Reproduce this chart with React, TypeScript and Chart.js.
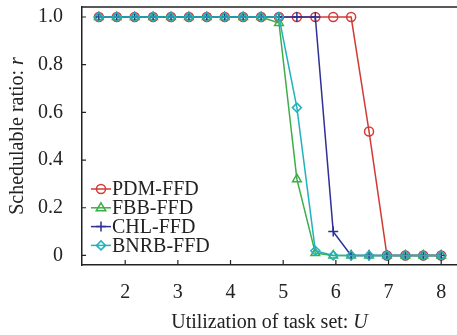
import React, { useEffect, useRef } from "react";
import { Chart, registerables } from "chart.js";

Chart.register(...registerables);

const X_VALUES = [1.5, 1.84, 2.18, 2.53, 2.87, 3.21, 3.55, 3.89, 4.24, 4.58, 4.92, 5.26, 5.61, 5.95, 6.29, 6.63, 6.97, 7.32, 7.66, 8.0];
const PDM_FFD = [1, 1, 1, 1, 1, 1, 1, 1, 1, 1, 1, 1, 1, 1, 1, 0.52, 0, 0, 0, 0];
const FBB_FFD = [1, 1, 1, 1, 1, 1, 1, 1, 1, 1, 0.975, 0.32, 0.01, 0, 0, 0, 0, 0, 0, 0];
const CHL_FFD = [1, 1, 1, 1, 1, 1, 1, 1, 1, 1, 1, 1, 1, 0.1, 0, 0, 0, 0, 0, 0];
const BNRB_FFD = [1, 1, 1, 1, 1, 1, 1, 1, 1, 1, 1, 0.62, 0.02, 0, 0, 0, 0, 0, 0, 0];
const X_TICKS = [2, 3, 4, 5, 6, 7, 8];
const Y_TICKS = [0, 0.2, 0.4, 0.6, 0.8, 1.0];
const Y_TICK_LABELS = ["0", "0.2", "0.4", "0.6", "0.8", "1.0"];

const SERIES = [
  { label: "PDM-FFD", data: PDM_FFD, color: "#d23a36", style: "circle", radius: 4.5 },
  { label: "FBB-FFD", data: FBB_FFD, color: "#3cae48", style: "triangle", radius: 5 },
  { label: "CHL-FFD", data: CHL_FFD, color: "#2e3192", style: "cross", radius: 5 },
  { label: "BNRB-FFD", data: BNRB_FFD, color: "#22b2bb", style: "rectRot", radius: 4.5 },
];

const FONT = "'Liberation Serif', 'Times New Roman', serif";

function drawMarker(ctx: CanvasRenderingContext2D, style: string, x: number, y: number, r: number) {
  ctx.beginPath();
  if (style === "circle") {
    ctx.arc(x, y, r, 0, Math.PI * 2);
  } else if (style === "triangle") {
    ctx.moveTo(x, y - r);
    ctx.lineTo(x + r * 0.95, y + r * 0.6);
    ctx.lineTo(x - r * 0.95, y + r * 0.6);
    ctx.closePath();
  } else if (style === "cross") {
    ctx.moveTo(x - r, y);
    ctx.lineTo(x + r, y);
    ctx.moveTo(x, y - r);
    ctx.lineTo(x, y + r);
  } else {
    ctx.moveTo(x, y - r);
    ctx.lineTo(x + r, y);
    ctx.lineTo(x, y + r);
    ctx.lineTo(x - r, y);
    ctx.closePath();
  }
  ctx.stroke();
}

const decorPlugin = {
  id: "decor",
  afterDraw(chart: any) {
    const ctx: CanvasRenderingContext2D = chart.ctx;
    const a = chart.chartArea;
    const xs = chart.scales.x;
    const ys = chart.scales.y;
    ctx.save();
    ctx.strokeStyle = "#222";
    ctx.lineWidth = 1.5;
    ctx.beginPath();
    ctx.moveTo(a.left, a.top);
    ctx.lineTo(a.right, a.top);
    ctx.stroke();
    ctx.lineWidth = 1.2;
    ctx.beginPath();
    X_TICKS.forEach((v) => {
      const px = xs.getPixelForValue(v);
      ctx.moveTo(px, a.bottom);
      ctx.lineTo(px, a.bottom - 5);
    });
    Y_TICKS.forEach((v) => {
      const py = ys.getPixelForValue(v);
      ctx.moveTo(a.left, py);
      ctx.lineTo(a.left + 4, py);
    });
    ctx.stroke();

    ctx.font = `20px ${FONT}`;
    ctx.textBaseline = "middle";
    ctx.textAlign = "left";
    SERIES.forEach((s, i) => {
      const y = 189 + i * 18.8;
      ctx.strokeStyle = s.color;
      ctx.lineWidth = 1.5;
      ctx.beginPath();
      ctx.moveTo(91, y);
      ctx.lineTo(111, y);
      ctx.stroke();
      drawMarker(ctx, s.style, 101, y, s.radius);
      ctx.fillStyle = "#222";
      ctx.fillText(s.label, 112, y + 1);
    });

    ctx.fillStyle = "#222";
    ctx.textBaseline = "middle";
    const xt1 = "Utilization of task set: ";
    const xt2 = "U";
    ctx.font = `20px ${FONT}`;
    const w1 = ctx.measureText(xt1).width;
    ctx.font = `italic 20px ${FONT}`;
    const w2 = ctx.measureText(xt2).width;
    const cx = (a.left + a.right) / 2;
    let sx = cx - (w1 + w2) / 2;
    ctx.font = `20px ${FONT}`;
    ctx.fillText(xt1, sx, 323);
    ctx.font = `italic 20px ${FONT}`;
    ctx.fillText(xt2, sx + w1, 323);

    const yt1 = "Schedulable ratio: ";
    const yt2 = "r";
    ctx.font = `20px ${FONT}`;
    const v1 = ctx.measureText(yt1).width;
    ctx.font = `italic 20px ${FONT}`;
    const v2 = ctx.measureText(yt2).width;
    ctx.translate(18, (a.top + a.bottom) / 2);
    ctx.rotate(-Math.PI / 2);
    sx = -(v1 + v2) / 2;
    ctx.font = `20px ${FONT}`;
    ctx.fillText(yt1, sx, 0);
    ctx.font = `italic 20px ${FONT}`;
    ctx.fillText(yt2, sx + v1, 0);
    ctx.restore();
  },
};

export default function App() {
  const ref = useRef<HTMLCanvasElement | null>(null);
  useEffect(() => {
    if (!ref.current) return;
    const chart = new Chart(ref.current, {
      type: "line",
      data: {
        datasets: SERIES.map((s, i) => ({
          label: s.label,
          data: X_VALUES.map((x, j) => ({ x, y: s.data[j] })),
          borderColor: s.color,
          backgroundColor: "rgba(0,0,0,0)",
          pointBackgroundColor: "rgba(0,0,0,0)",
          pointBorderColor: s.color,
          pointStyle: s.style as any,
          pointRadius: s.radius,
          pointBorderWidth: 1.5,
          borderWidth: 1.5,
          tension: 0,
          clip: false as any,
          order: SERIES.length - i,
        })),
      },
      options: {
        animation: false,
        responsive: false,
        maintainAspectRatio: false,
        layout: { autoPadding: false, padding: { top: 7, right: 0, left: 0, bottom: 0 } },
        plugins: { legend: { display: false }, tooltip: { enabled: false } },
        scales: {
          x: {
            type: "linear",
            min: 1.18,
            max: 8.3,
            afterBuildTicks: (scale: any) => {
              scale.ticks = X_TICKS.map((v) => ({ value: v }));
            },
            afterFit: (scale: any) => {
              scale.height = 70;
              scale.paddingLeft = 0;
              scale.paddingRight = 0;
            },
            grid: { display: false, drawTicks: false },
            border: { display: true, color: "#222", width: 1.5 },
            ticks: {
              padding: 16,
              color: "#222",
              font: { family: FONT, size: 20 },
              callback: (v: any) => String(v),
            },
          },
          y: {
            type: "linear",
            min: -0.04,
            max: 1.042,
            afterBuildTicks: (scale: any) => {
              scale.ticks = Y_TICKS.map((v) => ({ value: v }));
            },
            afterFit: (scale: any) => {
              scale.width = 82;
              scale.paddingTop = 0;
              scale.paddingBottom = 0;
            },
            grid: { display: false, drawTicks: false },
            border: { display: true, color: "#222", width: 1.5 },
            ticks: {
              padding: 19,
              color: "#222",
              font: { family: FONT, size: 20 },
              callback: (v: any) => {
                const idx = Y_TICKS.findIndex((t) => Math.abs(t - v) < 1e-6);
                return idx >= 0 ? Y_TICK_LABELS[idx] : "";
              },
            },
          },
        },
      },
      plugins: [decorPlugin],
    });
    return () => chart.destroy();
  }, []);
  return (
    <div style={{ position: "fixed", left: 0, top: 0, width: 457, height: 335, background: "#fff" }}>
      <canvas ref={ref} width={457} height={335} style={{ width: 457, height: 335 }} />
    </div>
  );
}
